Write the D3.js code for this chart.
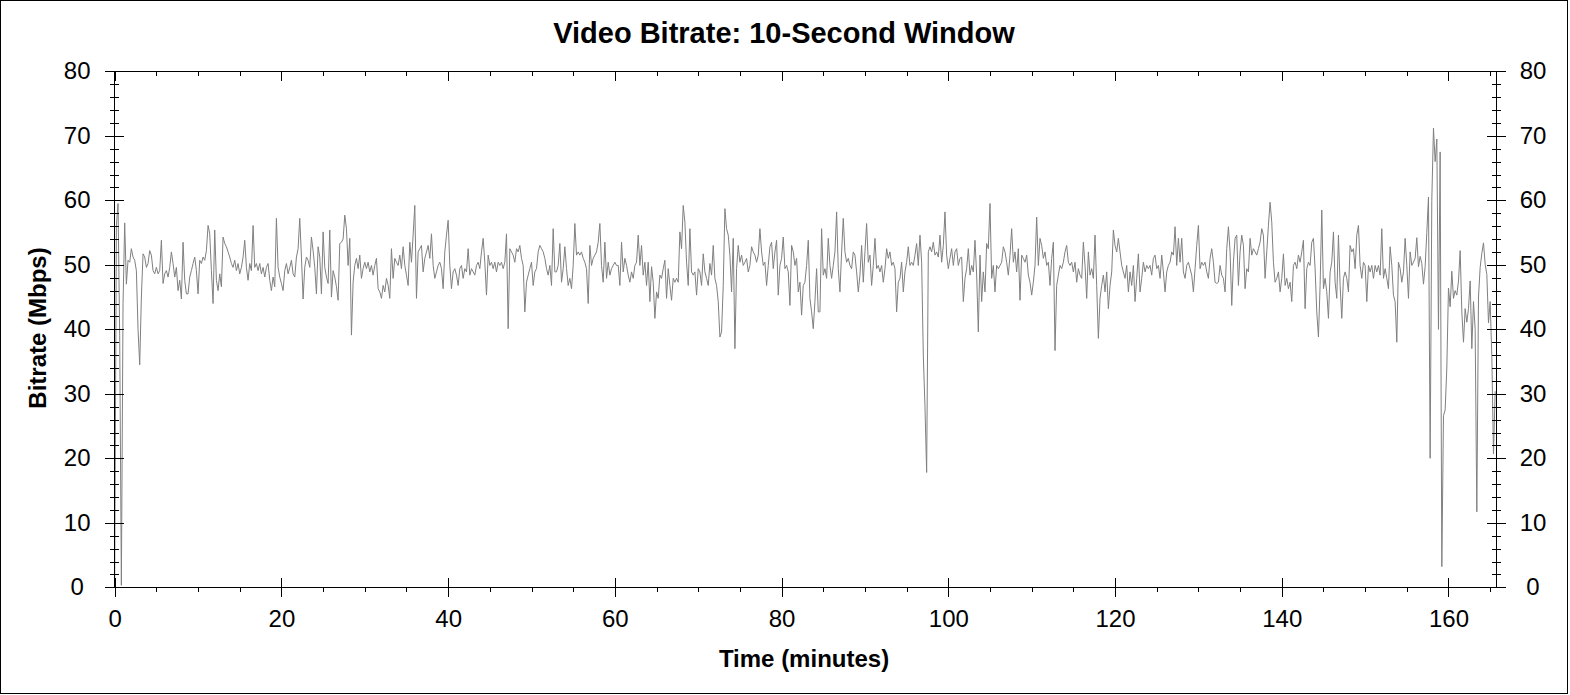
<!DOCTYPE html>
<html><head><meta charset="utf-8">
<script src="https://cdn.jsdelivr.net/npm/d3@7"></script>
<style>
body{margin:0;background:#fff}
svg{display:block}
text{font-family:"Liberation Sans",Arial,Helvetica,sans-serif;fill:#000}
</style>
</head><body>
<svg id="chart" width="1570" height="695"></svg>
<script>
// ---- data (bitrate in Mbps, sampled every STEP minutes from each segment start) ----
const STEP = 0.2;
const seg1Start = 0.0;
const seg1 = [0.5,56,59.5,39,0.3,44,56.5,47,50.7,50.4,
52.5,51.2,50.7,49.1,40,34.5,45,51.7,51.2,49.6,
50.2,52.2,51.5,49.1,48.6,49.6,48.6,49.1,53.8,47.1,
48.6,49.1,48.1,49.6,52.0,50.2,48.1,49.6,46.0,47.6,
44.7,53.5,47.6,45.5,45.5,48.1,49.1,50.2,51.2,49.1,
45.5,50.7,50.2,51.2,50.7,52.2,56.1,54.8,49.1,44.0,
55.4,47.6,46.0,48.6,46.6,54.3,53.3,52.8,52.0,51.2,
50.2,49.6,50.7,49.1,50.2,48.6,49.6,51.2,53.8,49.6,
47.6,50.2,49.1,56.1,49.6,50.2,49.1,50.2,48.6,49.6,
48.1,49.6,50.2,47.6,46.0,48.1,46.6,57.2,49.6,48.1,
47.1,46.0,49.1,50.2,48.6,49.6,50.7,48.6,48.1,51.2,
52.5,57.2,51.2,44.7,49.6,51.2,50.7,49.6,54.3,52.2,
49.6,45.5,52.8,51.2,45.5,55.1,49.6,48.1,47.1,55.4,
45.0,49.1,48.1,46.6,44.5,53.3,53.5,54.0];

const seg2Start = 27.6;
const seg2 = [57.7,55.6,49.9,54.1,39.1,47.3,49.9,51.0,49.4,51.5,
47.9,49.4,50.4,49.4,50.4,48.9,49.9,48.4,49.9,51.0,
46.3,45.8,44.8,46.8,45.8,47.9,46.8,44.8,52.5,47.9,
51.0,50.4,49.9,51.5,49.4,52.8,49.9,48.4,46.8,53.5,
50.4,54.6,59.2,44.8,52.0,52.5,53.0,48.9,51.0,52.0,
53.0,51.0,54.8,49.9,47.9,48.9,49.9,50.4,49.4,46.3,
52.0,54.6,56.9,49.9,46.3,48.9,49.4,48.4,46.8,49.4,
49.9,47.9,49.4,48.9,52.5,48.4,49.4,48.9,48.4,49.9,
50.4,49.4,52.0,54.1,50.4,45.3,51.5,49.9,50.4,49.4,
50.4,48.9,50.4,49.9,50.4,49.4,50.4,54.8,40.1,52.5,
52.0,51.5,50.4,52.5,52.0,53.0,51.0,49.9,42.7,47.3,
48.4,49.4,50.4,46.8,48.9,49.4,52.0,53.0,52.5,52.0,
51.0,49.4,48.4,49.9,46.8,55.6,48.9,48.9,49.9,53.3,
47.3,49.4,52.8,49.4,46.8,47.9,46.3,49.9,56.4,51.5,
52.0,51.5,52.0,51.0,50.4,49.4,44.0,53.0,49.9,51.0,
51.5,52.0,53.5,56.4,49.9,47.3,53.5,47.9,50.4,48.4,
49.4,49.9,50.4,49.9,49.9,46.8,53.5,48.9,51.0,49.9,
48.4,47.3,48.9,47.9,49.9,50.4,54.6,49.9];

const seg3Start = 63.2;
const seg3 = [53.0,48.4,50.4,46.8,50.4,44.3,49.7,47.3,41.7,45.8,
44.8,48.4,47.9,49.4,50.7,44.8,49.4,46.8,44.5,47.9,
47.3,47.9,47.3,55.1,52.5,59.2,56.6,50.4,46.8,55.6,
48.9,48.4,48.9,45.3,49.4,48.9,46.8,51.7,48.9,47.9,
46.8,50.2,48.4,53.0,47.9,46.8,44.3,38.8,39.6,46.8,
58.7,55.6,54.6,51.5,45.8,54.1,37.0,49.4,53.0,50.4,
51.5,49.9,50.4,51.0,48.9,49.9,52.8,52.0,51.5,50.4,
51.5,55.6,52.0,49.9,50.4,46.8,49.9,52.8,53.5,49.4,
52.0,53.8,45.3,49.9,51.0,54.3,49.4,49.9,48.9,43.7,
53.0,52.0,49.9,51.0,45.8,47.3,42.2,46.8,47.3,49.9,
53.8,44.8,42.7,40.1,44.3,49.4,42.7,42.7,55.6,48.4,
49.4,47.9,54.1,49.9,47.9,49.9,52.0,58.2,49.4,45.8,
52.0,57.2,52.0,50.4,51.0,49.9,49.4,52.0,51.5,48.9,
45.8,48.4,53.0,47.3,52.0,56.4,50.4,51.5,46.8,49.9,
54.1,49.4,49.9,48.9,49.9,47.3,49.4,52.5,51.0,52.0,
49.9,50.4,49.4,42.7,47.3,47.9,50.4,45.8,48.9,50.4,
52.8,49.9,50.4,49.9,51.5,53.3,49.9,54.6,50.4];

const seg4Start = 97.0;
const seg4 = [36,28,17.8,52];

const seg5Start = 97.8;
const seg5 = [52.8,52.0,53.5,51.5,52.0,51.2,54.6,50.4,53.0,58.2,
51.5,49.4,51.0,52.5,49.9,52.0,52.5,49.9,51.0,51.2,
44.3,47.9,49.4,52.5,48.4,49.9,48.9,53.8,48.4,39.6,
51.5,44.3,48.9,45.8,53.3,52.5,59.5,47.9,49.9,45.8,
49.9,49.4,49.9,50.4,52.8,52.0,50.4,48.4,51.5,55.6,
50.4,52.0,48.9,52.5,44.5,51.5,51.0,50.4,51.5,48.4,
47.3,45.3,47.3,49.9,57.4,49.9,54.1,53.0,51.0,52.0,
49.9,50.4,46.8,51.0,53.5,36.7,46.8,48.4,49.9,49.4,
50.4,52.0,53.0,50.4,49.9,50.4,48.9,50.4,47.3,49.4,
48.4,47.9,53.5,49.9,44.8,52.0,48.4,49.4,47.9,54.6,
46.8,38.6,44.8,46.8,48.4,45.8,48.9,43.2,46.8,48.9,
55.4,53.0,52.0,54.1,52.0,49.9,48.9,47.9,49.9,45.8,
48.9,46.8,49.9,44.3,47.9,51.7,45.8,47.9,50.4,48.9,
49.9,49.4,49.9,48.4,51.0,51.5,49.4,49.9,47.9,51.5,
48.9,45.8,48.9,49.9,50.4,52.0,51.5,55.9,49.9,54.1,
50.4,54.1,48.9,47.9,49.9,50.4,49.4,48.4,45.8,49.4,
53.0,56.1,49.4,50.4,49.9,50.4,48.9,47.9,51.0,52.5,
50.4,47.3,47.1,47.3,49.9];

const seg6Start = 132.8;
const seg6 = [48.4,47.9,45.8,52.5,55.9,52.0,43.7,50.4,54.1,54.6,
46.8,52.0,54.6,53.0,46.3,49.4,48.9,54.1,51.5,52.5,
52.0,51.5,52.5,53.5,55.6,54.6,47.9,52.0,56.1,59.7,
56.6,50.4,47.3,47.9,48.9,45.8,47.9,51.7,46.8,47.9,
46.3,47.3,44.3,49.9,50.4,49.4,51.5,50.4,52.0,53.8,
43.2,49.4,50.4,49.9,53.5,54.1,49.4,42.7,38.8,46.8,
58.5,46.3,47.9,45.8,41.7,48.9,50.4,55.1,47.3,44.8,
54.6,46.8,41.7,47.9,48.9,47.9,45.8,53.0,52.0,52.5,
49.4,54.6,56.1,49.9,47.9,50.4,49.9,44.3,49.9,48.9,
49.9,47.9,49.9,48.9,49.9,48.4,55.6,47.9,49.4,47.9,
46.3,52.8,49.9,45.3,44.3,38.0,50.4,49.4,47.3,48.9,
54.1,49.9,44.8,52.0,49.9,50.4,51.0];

const seg7Start = 156.2;
const seg7 = [54.2,49.7,51.3,50.2,47.0,49.7,55.0,60.5,20.0,60.0,
71.2,66.0,69.5,40.0,67.5,3.2,26.6,27.5,34.0,46.4,
43.5,49.0,44.8,46.0,45.3,47.5,52.2,42.7,38.0,43.2,
41.1,43.2,47.5,37.0,44.3,40.0,11.7,45.0,49.6,51.8,
53.4,50.1,48.5,41.0,44.3,35.7,20.7,30.4];

const segments = [
  [seg1Start, seg1],[seg2Start, seg2],[seg3Start, seg3],[seg4Start, seg4],
  [seg5Start, seg5],[seg6Start, seg6],[seg7Start, seg7]
];

const xMajor = [0,20,40,60,80,100,120,140,160];
const xMinor = d3.range(0, 166, 5);
const yMajor = [0,10,20,30,40,50,60,70,80];
const yMinor = d3.range(0, 81, 2);

const title = "Video Bitrate: 10-Second Window";
const xTitle = "Time (minutes)";
const yTitle = "Bitrate (Mbps)";

// ---- build ----
const data = [];
segments.forEach(([start, vals]) => vals.forEach((v, i) => data.push({t: +(start + i*STEP).toFixed(2), v})));
data.sort((a,b) => a.t - b.t);

const svg = d3.select("#chart");
const L = 114.7, R = 1496, T = 71.3, B = 587.3;
const x = d3.scaleLinear().domain([0, 165.7]).range([L, R]);
const y = d3.scaleLinear().domain([0, 80]).range([B, T]);

// outer frame
svg.append("rect").attr("x",0.5).attr("y",0.5).attr("width",1567).attr("height",693)
  .attr("fill","none").attr("stroke","#000").attr("stroke-width",1);

// data line
svg.append("path").datum(data)
  .attr("fill","none").attr("stroke","#808080").attr("stroke-width",1)
  .attr("stroke-linejoin","round")
  .attr("d", d3.line().x(d => x(d.t)).y(d => y(d.v)));

function axisG(gen, tx, ty){
  const g = svg.append("g").attr("transform",`translate(${tx},${ty})`).call(gen);
  g.selectAll("path.domain").remove();
  g.selectAll("line").attr("stroke","#000").attr("shape-rendering","crispEdges");
  return g;
}
const none = () => "";

// left axis
axisG(d3.axisLeft(y).tickValues(yMinor).tickSize(5).tickFormat(none), L, 0);
axisG(d3.axisRight(y).tickValues(yMinor).tickSize(4).tickFormat(none), L, 0);
axisG(d3.axisRight(y).tickValues(yMajor).tickSize(9).tickFormat(none), L, 0);
const gl = axisG(d3.axisLeft(y).tickValues(yMajor).tickSize(10).tickPadding(27), L, 0);
gl.selectAll("text").attr("text-anchor","middle").attr("x",-37.5).style("font-size","24px").attr("font-family",null);

// right axis
axisG(d3.axisRight(y).tickValues(yMinor).tickSize(5).tickFormat(none), R, 0);
axisG(d3.axisLeft(y).tickValues(yMinor).tickSize(4).tickFormat(none), R, 0);
axisG(d3.axisLeft(y).tickValues(yMajor).tickSize(9).tickFormat(none), R, 0);
const gr = axisG(d3.axisRight(y).tickValues(yMajor).tickSize(10), R, 0);
gr.selectAll("text").attr("text-anchor","middle").attr("x",37).style("font-size","24px").attr("font-family",null);

// bottom axis
axisG(d3.axisBottom(x).tickValues(xMinor).tickSize(5).tickFormat(none), 0, B);
axisG(d3.axisTop(x).tickValues(xMajor).tickSize(9).tickFormat(none), 0, B);
const gb = axisG(d3.axisBottom(x).tickValues(xMajor).tickSize(10).tickPadding(13), 0, B);
gb.selectAll("text").style("font-size","24px").attr("font-family",null);

// top axis (inside ticks only)
axisG(d3.axisBottom(x).tickValues(xMinor).tickSize(5).tickFormat(none), 0, T);
axisG(d3.axisBottom(x).tickValues(xMajor).tickSize(9.5).tickFormat(none), 0, T);

// frame of plot
svg.append("rect").attr("x",L).attr("y",T).attr("width",R-L).attr("height",B-T)
  .attr("fill","none").attr("stroke","#000").attr("stroke-width",1).attr("shape-rendering","crispEdges");

// titles
svg.append("text").attr("x",784).attr("y",43.3).attr("text-anchor","middle")
  .style("font-size","29px").style("font-weight","bold").text(title);
svg.append("text").attr("x",804).attr("y",667).attr("text-anchor","middle")
  .style("font-size","24px").style("font-weight","bold").text(xTitle);
svg.append("text").attr("transform","translate(46,328) rotate(-90)").attr("text-anchor","middle")
  .style("font-size","24px").style("font-weight","bold").text(yTitle);
</script>
</body></html>
